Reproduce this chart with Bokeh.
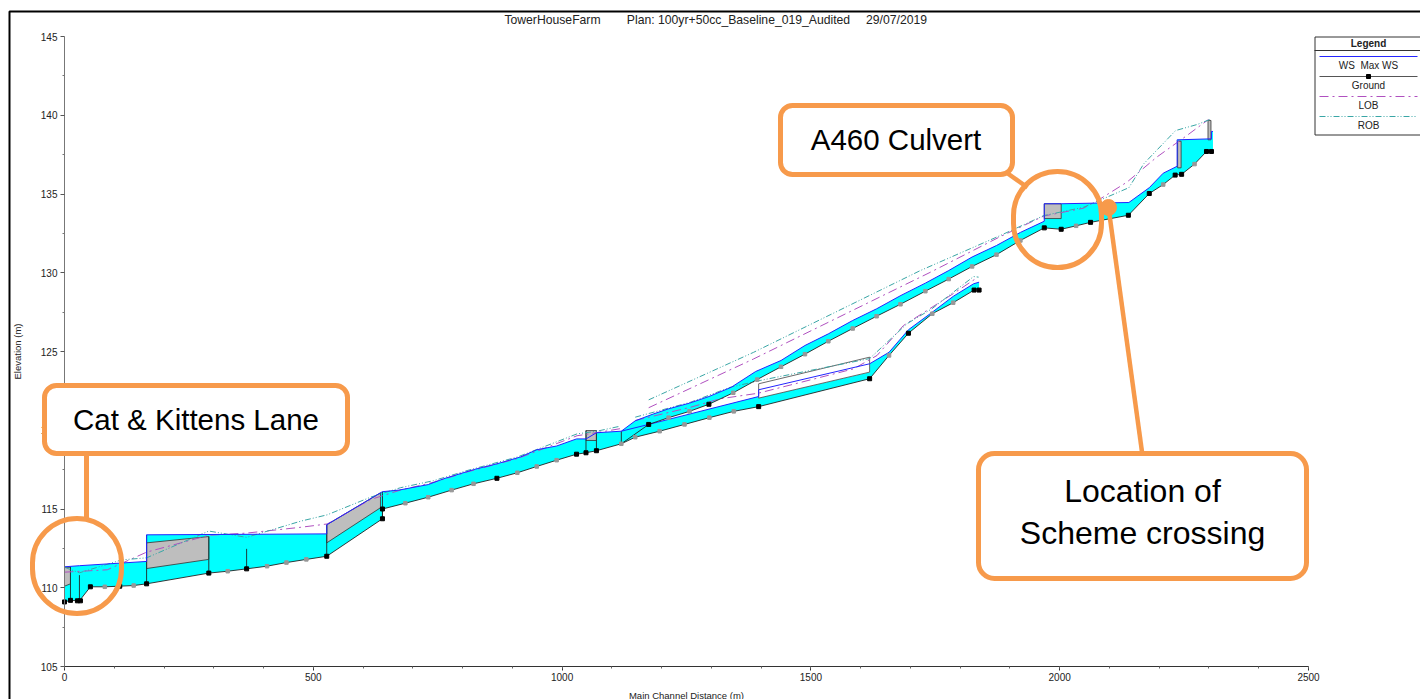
from bokeh.plotting import figure
from bokeh.embed import file_html
from bokeh.resources import INLINE
from bokeh.models import BoxAnnotation, Label, Arrow, Range1d, FixedTicker

# ---- data ----
main_gx = [0, 12, 30, 52, 81, 111, 139, 165, 290, 328, 366, 407, 446, 486, 527, 639, 639, 685, 731, 778, 822, 869, 910, 949, 989, 1029, 1048, 1069, 1119]
main_gy = [109.1, 109.2, 109.17, 110.06, 110.06, 110.1, 110.14, 110.25, 110.93, 111.05, 111.2, 111.37, 111.6, 111.8, 112.0, 114.38, 115.0, 115.37, 115.75, 116.2, 116.6, 116.95, 117.3, 117.7, 118.1, 118.48, 118.57, 118.7, 119.14]
main_wx = [0, 30, 165, 165, 527, 527, 639, 672, 731, 762, 822, 869, 916, 949, 989, 1029, 1048, 1069, 1119]
main_wy = [111.33, 111.4, 111.67, 113.36, 113.42, 114.0, 116.1, 116.2, 116.55, 116.92, 117.5, 117.87, 118.3, 118.76, 119.0, 119.45, 119.45, 119.84, 119.94]
main_lx = [0, 86, 165, 290, 366, 475, 528, 615, 675, 742, 809, 910, 956, 1030, 1070, 1117]
main_ly = [110.99, 111.14, 112.26, 113.33, 113.47, 113.84, 114.05, 115.6, 116.2, 116.7, 117.35, 118.2, 118.75, 119.65, 119.85, 120.1]
main_rx = [0, 30, 115, 165, 290, 366, 475, 528, 615, 675, 742, 809, 910, 956, 1030, 1070, 1117]
main_ry = [111.3, 110.95, 111.77, 111.9, 113.6, 113.2, 114.23, 114.63, 115.75, 116.35, 116.8, 117.44, 118.3, 118.86, 119.77, 119.94, 120.26]

up_gx = [1119, 1174, 1214, 1256, 1295, 1344, 1392, 1440, 1488, 1535, 1584, 1632, 1680, 1730, 1777, 1824, 1873, 1921, 1969, 2003, 2033, 2062, 2138, 2180, 2208, 2232, 2245, 2271, 2295, 2308]
up_gy = [119.14, 120.37, 120.8, 121.2, 121.65, 122.38, 123.22, 124.03, 124.83, 125.65, 126.46, 127.24, 128.0, 128.83, 129.6, 130.4, 131.15, 132.05, 132.85, 132.76, 132.98, 133.2, 133.65, 135.03, 135.6, 136.2, 136.25, 136.9, 137.7, 137.7]
up_wx = [1119, 1147, 1184, 1214, 1256, 1295, 1340, 1389, 1440, 1488, 1535, 1584, 1632, 1681, 1730, 1777, 1824, 1873, 1921, 1969, 1969, 2003, 2139, 2180, 2208, 2236, 2236, 2302, 2305, 2305, 2308]
up_wy = [119.94, 120.6, 121.04, 121.36, 121.72, 122.14, 122.73, 123.73, 124.43, 125.38, 126.12, 126.97, 127.71, 128.56, 129.34, 130.14, 131.0, 131.73, 132.56, 133.27, 134.38, 134.38, 134.46, 135.4, 136.32, 136.76, 138.44, 138.5, 138.5, 138.97, 138.97]
up_lx = [1174, 1385, 1740, 1881, 1968, 2048, 2082, 2135, 2195, 2255, 2299]
up_ly = [121.43, 124.53, 130.03, 132.3, 133.6, 134.1, 134.7, 135.75, 137.34, 138.7, 139.73]
up_rx = [1174, 1385, 1720, 1881, 1968, 2048, 2139, 2169, 2233, 2276, 2302]
up_ry = [121.93, 124.95, 130.14, 132.37, 133.63, 134.16, 135.4, 136.92, 139.03, 139.41, 139.73]

low_gx = [1119, 1147, 1196, 1246, 1296, 1345, 1395, 1618, 1657, 1696, 1744, 1786, 1828, 1838]
low_gy = [119.14, 119.56, 119.94, 120.37, 120.8, 121.2, 121.5, 123.27, 124.75, 126.16, 127.4, 128.1, 128.9, 128.9]
low_wx = [1119, 1174, 1395, 1395, 1618, 1618, 1657, 1696, 1744, 1786, 1827, 1838]
low_wy = [119.94, 120.37, 122.14, 122.57, 124.22, 124.22, 124.95, 126.38, 127.5, 128.5, 129.3, 129.4]
low_cy = [119.94, 120.37, 122.14, 122.04, 123.69, 124.22, 124.95, 126.38, 127.5, 128.5, 129.3, 129.4]
low_lx = [1147, 1258, 1318, 1394, 1586, 1633, 1686, 1786, 1830]
low_ly = [120.62, 121.46, 122.0, 122.35, 123.9, 124.75, 126.65, 128.67, 129.6]
low_rx = [1147, 1258, 1338, 1398, 1618, 1693, 1743, 1786, 1827, 1837]
low_ry = [120.83, 121.78, 122.73, 123.16, 124.55, 126.76, 127.71, 128.76, 129.76, 129.72]

deck_x0 = [0, 165, 527, 1048, 1969, 2237, 2298]
deck_x1 = [12, 290, 635, 1069, 2003, 2244, 2304]
deck_t0 = [111.3, 112.85, 114.0, 119.98, 134.38, 138.35, 139.67]
deck_t1 = [111.3, 113.25, 116.03, 119.98, 134.38, 138.35, 139.67]
deck_b0 = [110.1, 111.22, 112.85, 119.35, 133.44, 136.66, 138.44]
deck_b1 = [110.25, 111.8, 115.08, 119.35, 133.44, 136.66, 138.44]

open_x = [1395, 1618]
open_top = [122.95, 124.64]
open_bot = [122.04, 123.69]

pier_x = [0, 12, 30, 165, 290, 366, 527, 639, 1048, 1069, 1119]
pier_top = [111.33, 111.33, 110.8, 113.36, 113.25, 112.47, 114.0, 116.1, 119.98, 119.98, 119.94]
pier_bot = [109.1, 109.2, 109.17, 110.25, 110.93, 111.2, 112.0, 114.38, 118.57, 118.7, 119.14]

black_x = [0, 12, 26, 32, 52, 111, 165, 290, 366, 527, 639, 639, 869, 1029, 1048, 1069, 1174, 1295, 1395, 1618, 1696, 1828, 1838, 1969, 2003, 2062, 2138, 2180, 2232, 2245, 2295, 2305]
black_y = [109.1, 109.2, 109.17, 109.17, 110.06, 110.1, 110.25, 110.93, 111.2, 112.0, 114.38, 115.0, 116.95, 118.48, 118.57, 118.7, 120.37, 121.65, 121.5, 123.27, 126.16, 128.9, 128.9, 132.85, 132.76, 133.2, 133.65, 135.03, 136.2, 136.25, 137.7, 137.7]
grey_x = [81, 139, 328, 407, 446, 486, 685, 731, 778, 822, 910, 949, 989, 1119, 1147, 1196, 1214, 1246, 1256, 1296, 1344, 1345, 1392, 1440, 1488, 1535, 1584, 1632, 1657, 1680, 1730, 1744, 1777, 1786, 1824, 1873, 1921, 2033, 2208, 2271]
grey_y = [110.06, 110.14, 111.05, 111.37, 111.6, 111.8, 115.37, 115.75, 116.2, 116.6, 117.3, 117.7, 118.1, 119.14, 119.56, 119.94, 120.8, 120.37, 121.2, 120.8, 122.38, 121.2, 123.22, 124.03, 124.83, 125.65, 126.46, 127.24, 124.75, 128.0, 128.83, 127.4, 129.6, 128.1, 130.4, 131.15, 132.05, 132.98, 135.6, 136.9]

x_ticks = [0, 500, 1000, 1500, 2000, 2500]
y_ticks = [105, 110, 115, 120, 125, 130, 135, 140, 145]
legend_names = ["WS\u00a0\u00a0Max WS", "Ground", "LOB", "ROB"]
title_parts = ["TowerHouseFarm", "Plan: 100yr+50cc_Baseline_019_Audited", "29/07/2019"]
callouts = ["Cat & Kittens Lane", "A460 Culvert", "Location of", "Scheme crossing"]

FONT = "Liberation Sans"
CYAN, GREY, BLUE = "#00FFFF", "#BEBEBE", "#2424FF"
LOB, ROB = "#B050C0", "#3AA6A6"
ORANGE = "#F79A4B"
INK = "#222222"

W, H = 1420, 699
PL, PR, PT, PB = 64, 1308, 36, 666   # where the plot area sits on the page
sx = 2500 / (PR - PL)
sy = 40 / (PB - PT)
xr = Range1d(0 - PL * sx, 2500 + (W - PR) * sx)
yr = Range1d(105 - (H - PB) * sy, 145 + PT * sy)

p = figure(width=W, height=H, output_backend="svg", toolbar_location=None, x_range=xr, y_range=yr,
           min_border=0, outline_line_color=None, background_fill_color="white", border_fill_color="white")
p.grid.visible = False

xa, ya = p.xaxis[0], p.yaxis[0]
xa.fixed_location = 105
ya.fixed_location = 0
xa.bounds = (0, 2500)
ya.bounds = (105, 145)
xa.ticker = FixedTicker(ticks=x_ticks, minor_ticks=list(range(0, 2501, 100)))
ya.ticker = FixedTicker(ticks=y_ticks, minor_ticks=[y + 2.5 for y in y_ticks[:-1]])
for ax in (xa, ya):
    ax.major_label_text_font = FONT
    ax.major_label_text_font_size = "10px"
    ax.major_label_text_color = INK
    ax.axis_label_text_font = FONT
    ax.axis_label_text_font_size = "9.5px"
    ax.axis_label_text_font_style = "normal"
    ax.axis_label_text_color = INK
    ax.major_tick_out = 4
    ax.major_tick_in = 0
    ax.minor_tick_out = 2
    ax.minor_tick_in = 0
xa.axis_label = "Main Channel Distance (m)"
ya.axis_label = "Elevation (m)"
xa.axis_label_standoff = 6
ya.axis_label_standoff = 15
xa.axis_line_color = "#333333"
ya.axis_line_color = "#777777"
xa.major_tick_line_color = "#333333"
ya.major_tick_line_color = "#555555"
xa.minor_tick_line_color = "#666666"
ya.minor_tick_line_color = "#777777"
xa.major_label_standoff = 2
ya.major_label_standoff = 3

# water bodies
for wx, wy, gx, gy in ((main_wx, main_wy, main_gx, main_gy), (up_wx, up_wy, up_gx, up_gy), (low_wx, low_cy, low_gx, low_gy)):
    p.patch(wx + gx[::-1], wy + gy[::-1], fill_color=CYAN, line_color=None)

# decks
dk_xs, dk_ys = [], []
for a, b, t0, t1, b0, b1 in zip(deck_x0, deck_x1, deck_t0, deck_t1, deck_b0, deck_b1):
    dk_xs.append([a, b, b, a])
    dk_ys.append([t0, t1, b1, b0])
p.patches(dk_xs, dk_ys, fill_color=GREY, line_color="#333333", line_width=0.8)
p.patch(open_x + open_x[::-1], open_top + open_bot[::-1], fill_color="white", line_color="#444444", line_width=0.8)
p.segment(pier_x, pier_top, pier_x, pier_bot, line_color="#1c3c3c", line_width=1)

# profile lines
for x, y in ((main_lx, main_ly), (up_lx, up_ly), (low_lx, low_ly)):
    p.line(x, y, line_color=LOB, line_width=1, line_dash="9 4 2 4")
for x, y in ((main_rx, main_ry), (up_rx, up_ry), (low_rx, low_ry)):
    p.line(x, y, line_color=ROB, line_width=1, line_dash="6 2 1 2 1 2")
for x, y in ((main_wx, main_wy), (up_wx, up_wy), (low_wx, low_wy)):
    p.line(x, y, line_color=BLUE, line_width=1)
for x, y in ((main_gx, main_gy), (up_gx, up_gy), (low_gx, low_gy)):
    p.line(x, y, line_color="#222222", line_width=0.9)
p.scatter(grey_x, grey_y, marker="square", size=3.5, color="#989898")
p.scatter(black_x, black_y, marker="square", size=4, color="#000000")

def box(l, t, r, b, **kw):
    kw.setdefault("line_alpha", 1)
    p.add_layout(BoxAnnotation(left=l, right=r, top=t, bottom=b,
                               left_units="canvas", right_units="canvas", top_units="canvas", bottom_units="canvas", **kw))

def seg(x0, y0, x1, y1, color, width, dash="solid"):
    p.add_layout(Arrow(end=None, x_start=x0, y_start=y0, x_end=x1, y_end=y1,
                       start_units="canvas", end_units="canvas",
                       line_color=color, line_width=width, line_dash=dash))

def text(x, y, s, size, style="normal", color="#000000"):
    p.add_layout(Label(x=x, y=y, x_units="canvas", y_units="canvas", text=s,
                       text_font=FONT, text_font_size=size, text_font_style=style, text_color=color,
                       text_align="center", text_baseline="middle"))

# frame around the picture
box(9, 11, 1500, 900, fill_alpha=0, line_color="#000000", line_width=2)

# callouts
seg(86, 450, 86, 520, ORANGE, 5)
seg(1003, 170, 1027, 187, ORANGE, 4.5)
seg(1108, 207, 1142, 455, ORANGE, 4.5)
box(32, 518, 121, 613, fill_alpha=0, line_color=ORANGE, line_width=5, border_radius=47)
box(1013, 171, 1101, 267, fill_alpha=0, line_color=ORANGE, line_width=5, border_radius=46)
box(1100, 199, 1116, 215, fill_color=ORANGE, fill_alpha=1, line_color=ORANGE, line_width=1, border_radius=8)
box(44, 385, 347, 453, fill_color="white", fill_alpha=1, line_color=ORANGE, line_width=5, border_radius=12)
box(780, 105, 1012, 174, fill_color="white", fill_alpha=1, line_color=ORANGE, line_width=5, border_radius=12)
box(978, 453, 1306, 578, fill_color="white", fill_alpha=1, line_color=ORANGE, line_width=5, border_radius=16)
text(195.5, 418.5, callouts[0], "29.5px")
text(895.5, 138.5, callouts[1], "29.5px")
text(1142, 490.5, callouts[2], "32px")
text(1142, 532.5, callouts[3], "32px")

text(552, 19.5, title_parts[0], "12.2px", color=INK)
text(738, 19.5, title_parts[1], "12.2px", color=INK)
text(896, 19.5, title_parts[2], "12.2px", color=INK)

# legend
box(1314.5, 36.5, 1424, 134.5, fill_color="white", fill_alpha=1, line_color="#333333", line_width=1)
seg(1314, 50, 1424, 50, "#333333", 1)
text(1368, 42.5, "Legend", "10px", "bold", INK)
seg(1319, 56, 1417, 56, BLUE, 1)
text(1368, 65, legend_names[0], "10px", color=INK)
seg(1319, 76, 1417, 76, "#555555", 1)
box(1366, 74, 1370, 78, fill_color="#000000", fill_alpha=1, line_color="#000000")
text(1368, 85, legend_names[1], "10px", color=INK)
seg(1319, 96, 1417, 96, LOB, 1, "9 4 2 4")
text(1368, 105, legend_names[2], "10px", color=INK)
seg(1319, 116, 1417, 116, ROB, 1, "6 2 1 2 1 2")
text(1368, 125, legend_names[3], "10px", color=INK)

open("out.html", "w").write(file_html(p, INLINE))
